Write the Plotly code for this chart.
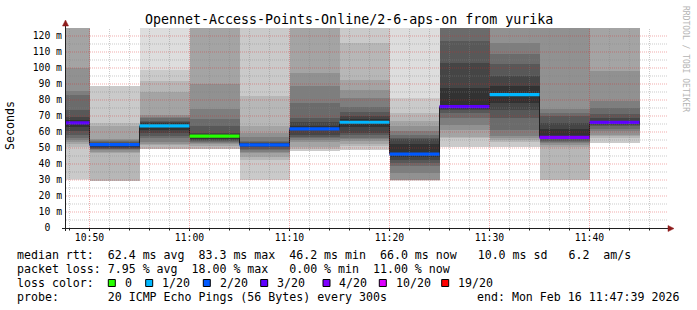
import plotly.graph_objects as go
from datetime import datetime, timedelta

# ---------------- data ----------------
DAY = "2026-02-16"
graph_start = "10:47:39"
graph_end = "11:47:39"
step_start = ["10:45", "10:50", "10:55", "11:00", "11:05", "11:10",
              "11:15", "11:20", "11:25", "11:30", "11:35", "11:40"]
STEP_S = 300

# 20 sorted ping RTTs (ms) per 5-min step; values above 125 ms are off-scale, None = lost
pings_1045 = [30.3, 30.4, 50.8, 52.3, 53.9, 55.0, 56.5, 58.1, 60.5, 63.3,
              67.5, 69.6, 73.8, 83.1, 85.8, 99.8, 130, 135, 140, 150]
pings_1050 = [None, 29.3, 29.4, 47.0, 47.7, 48.5, 49.2, 49.5, 49.8, 50.8,
              53.0, 53.4, 53.8, 54.2, 54.8, 55.4, 63.8, 65.8, 88.8, None]
pings_1055 = [49.3, 49.35, 49.4, 51.9, 52.2, 54.0, 56.0, 57.5, 59.2, 61.0,
              65.5, 66.2, 67.0, 68.5, 69.5, 70.6, 85.2, 91.9, 98.8, 140]
pings_1100 = [49.5, 49.55, 49.6, 51.0, 52.3, 52.9, 53.6, 54.4, 55.0, 55.6,
              58.5, 59.2, 63.8, 67.9, 74.2, 89.8, 130, 135, 140, 150]
pings_1105 = [29.9, 30.0, 42.5, 44.5, 46.7, 47.8, 48.8, 49.6, 50.4, 51.0,
              53.2, 53.4, 53.8, 54.4, 57.0, 59.6, 63.8, 82.5, 130, 140]
pings_1110 = [48.2, 48.3, 49.5, 50.8, 54.0, 55.0, 56.0, 57.0, 58.1, 61.3,
              64.0, 66.5, 68.9, 78.3, 88.8, 97.0, 130, 135, 140, 150]
pings_1115 = [48.7, 48.75, 51.3, 52.5, 54.4, 55.4, 56.4, 58.0, 59.6, 63.0,
              68.0, 70.0, 72.5, 75.5, 81.0, 86.5, 92.5, 115.8, 130, 140]
pings_1120 = [29.6, 29.7, 29.8, 29.9, 30.0, 34.4, 38.5, 40.5, 42.5, 44.5,
              52.5, 55.4, 56.0, 58.0, 60.6, 63.8, 66.9, 72.0, 81.4, 140]
pings_1125 = [50.7, 50.8, 56.0, 57.0, 61.5, 64.4, 69.0, 72.0, 73.5, 74.5,
              87.7, 103.3, 116.9, 130, 132, 134, 136, 138, 140, 150]
pings_1130 = [50.7, 50.8, 54.0, 55.0, 56.2, 57.5, 61.5, 69.0, 74.0, 78.0,
              88.8, 95.0, 102.3, 108.5, 115.8, 130, 135, 140, 145, 150]
pings_1135 = [29.8, 29.9, 30.0, 50.8, 51.8, 52.9, 53.5, 54.5, 55.5, 56.3,
              62.0, 65.8, 70.0, 72.0, 74.2, 130, 135, 140, 145, 150]
pings_1140 = [53.2, 53.3, 56.0, 57.2, 58.4, 60.5, 62.0, 63.5, 64.3, 65.0,
              67.0, 69.0, 71.1, 75.2, 79.4, 98.1, 130, 135, 140, 150]
pings = [pings_1045, pings_1050, pings_1055, pings_1100, pings_1105, pings_1110,
         pings_1115, pings_1120, pings_1125, pings_1130, pings_1135, pings_1140]

median_rtt = [65.7, 52.1, 63.8, 57.4, 52.0, 62.0, 66.1, 46.2, 75.8, 83.3, 56.7, 66.0]
loss_pct = [13, 7, 5, 0, 7, 6, 5, 7, 13, 5, 18, 11]

loss_levels = [0, 1, 2, 3, 4, 10, 19]          # lost pings out of 20
loss_labels = ["0", "1/20", "2/20", "3/20", "4/20", "10/20", "19/20"]
loss_colors = ["#26ff00", "#00b8ff", "#0059ff", "#5e00ff", "#7e00ff", "#dd00ff", "#ff0000"]

y_ticks = [0, 10, 20, 30, 40, 50, 60, 70, 80, 90, 100, 110, 120]
y_tick_text = ["0\u00a0\u00a0"] + [f"{v} m" for v in y_ticks[1:]]
x_ticks = ["10:50", "11:00", "11:10", "11:20", "11:30", "11:40"]

title_text = "Opennet-Access-Points-Online/2-6-aps-on from yurika"
line_rtt = "median rtt:  62.4 ms avg  83.3 ms max  46.2 ms min  66.0 ms now   10.0 ms sd   6.2  am/s"
line_loss = "packet loss: 7.95 % avg  18.00 % max   0.00 % min  11.00 % now"
line_probe = "probe:       20 ICMP Echo Pings (56 Bytes) every 300s"
line_end = "end: Mon Feb 16 11:47:39 2026"
watermark = "RRDTOOL / TOBI OETIKER"

# ---------------- geometry helpers ----------------
W, H = 697, 310
PL, PR, PT, PB = 66, 666, 28, 228          # plot area in pixels
YMAX = 125
MONO = "DejaVu Sans Mono"


def px(x):
    return (x - PL) / (PR - PL)


def py(y):
    return (PB - y) / (PB - PT)


def ts(hhmm):
    parts = [int(v) for v in hhmm.split(":")]
    while len(parts) < 3:
        parts.append(0)
    return datetime(2026, 2, 16, parts[0], parts[1], parts[2])


starts = [ts(s) for s in step_start]
ends = [s + timedelta(seconds=STEP_S) for s in starts]
centers = [s + timedelta(seconds=STEP_S / 2) for s in starts]
STEP_MS = STEP_S * 1000

fig = go.Figure()

# ---------------- smoke (smokeping style) ----------------
N = len(pings[0])
half = N // 2
for ibot in range(1, half + 1):
    itop = N - ibot + 1
    g = int(190 / half * (half - ibot)) + 50
    bases, heights = [], []
    for p in pings:
        lo, hi = p[ibot - 1], p[itop - 1]
        if lo is None or hi is None:
            bases.append(None)
            heights.append(None)
        else:
            bases.append(lo)
            heights.append(hi - lo)
    fig.add_trace(go.Bar(x=centers, y=heights, base=bases, width=STEP_MS,
                         marker=dict(color=f"rgb({g},{g},{g})", line=dict(width=0)),
                         hoverinfo="skip"))

# ---------------- median line ----------------
step_x = starts + [ends[-1]]
step_y = median_rtt + [median_rtt[-1]]
fig.add_trace(go.Scatter(x=step_x, y=step_y, mode="lines", line_shape="hv",
                         line=dict(color="#202020", width=1), hoverinfo="skip"))


def loss_color(pct):
    cnt = pct / 100 * 20
    last = -1
    for lv, col in zip(loss_levels, loss_colors):
        if last < cnt <= lv or (lv == 0 and cnt <= 0):
            return col
        last = lv
    return loss_colors[-1]


for s, e, m, l in zip(starts, ends, median_rtt, loss_pct):
    fig.add_trace(go.Scatter(x=[s, e], y=[m, m], mode="lines",
                             line=dict(color=loss_color(l), width=3.2), hoverinfo="skip"))

# ---------------- grid (drawn above data, like rrdtool) ----------------
MAJ = "rgba(215,40,40,0.38)"
MIN = "rgba(130,130,130,0.42)"
shapes = []
t0, t1 = ts(graph_start), ts(graph_end)
t = ts("10:48")
while t < t1:
    major = t.minute % 10 == 0
    shapes.append(dict(type="line", xref="x", yref="paper", x0=t, x1=t, y0=0, y1=1,
                       layer="above",
                       line=dict(color=MAJ if major else MIN, width=1, dash="1px,1px")))
    shapes.append(dict(type="line", xref="x", yref="paper", x0=t, x1=t,
                       y0=py(228.5), y1=py(231 if major else 230.5), layer="above",
                       line=dict(color="#202020", width=1)))
    t += timedelta(minutes=2)

for v in range(5, 125, 5):
    major = v % 10 == 0
    shapes.append(dict(type="line", xref="paper", yref="y", x0=0, x1=px(668), y0=v, y1=v,
                       layer="above",
                       line=dict(color=MAJ if major else MIN, width=1, dash="1px,1px")))

# axes
AX = "#202020"
ARROW = "#8e1c1c"
shapes.append(dict(type="line", xref="paper", yref="paper", x0=px(62), x1=px(668),
                   y0=py(228.5), y1=py(228.5), layer="above", line=dict(color=AX, width=1)))
shapes.append(dict(type="line", xref="paper", yref="paper", x0=px(65.5), x1=px(65.5),
                   y0=py(231), y1=py(24), layer="above", line=dict(color=AX, width=1)))
shapes.append(dict(type="path", xref="paper", yref="paper", layer="above",
                   path=f"M {px(668)} {py(225.5)} L {px(674)} {py(228.5)} L {px(668)} {py(231.5)} Z",
                   fillcolor=ARROW, line=dict(color=ARROW, width=0.5)))
shapes.append(dict(type="path", xref="paper", yref="paper", layer="above",
                   path=f"M {px(62.5)} {py(26)} L {px(65.5)} {py(20)} L {px(68.5)} {py(26)} Z",
                   fillcolor=ARROW, line=dict(color=ARROW, width=0.5)))

# loss colour boxes
box_left = [108.3, 145.7, 203.3, 260.7, 323.0, 379.3, 441.7]
for bl, col in zip(box_left, loss_colors):
    shapes.append(dict(type="rect", xref="paper", yref="paper",
                       x0=px(bl), x1=px(bl + 7), y0=py(279.5), y1=py(286.5),
                       fillcolor=col, line=dict(color="#000000", width=1)))

# ---------------- texts ----------------
ann = []


def text(x, y, s, size=11.6, anchor="left", angle=0, color="#000000"):
    ann.append(dict(xref="paper", yref="paper", x=px(x), y=py(y), text=s.replace(" ", "\u00a0"),
                    showarrow=False, xanchor=anchor, yanchor="middle", textangle=angle,
                    borderpad=0, font=dict(family=MONO, size=size, color=color)))


text(348.5, 19, title_text, size=13.3, anchor="center")
text(10, 126, "Seconds", anchor="center", angle=-90)
text(686, 59, watermark, size=8, anchor="center", angle=90, color="#b4b4b4")
text(16, 255, line_rtt)
text(16, 268.5, line_loss)
text(16, 282.5, "loss color:")
for bl, lab in zip(box_left, loss_labels):
    text(bl + 15.3, 282.5, lab)
text(16, 296.5, line_probe)
text(680, 296.5, line_end, anchor="right")

fig.update_layout(
    width=W, height=H,
    margin=dict(l=PL, r=W - PR, t=PT, b=H - PB),
    paper_bgcolor="#ffffff", plot_bgcolor="#ffffff",
    barmode="overlay", bargap=0, showlegend=False,
    shapes=shapes, annotations=ann,
    xaxis=dict(type="date", range=[t0, t1], showgrid=False, zeroline=False, showline=False,
               tickvals=[ts(v) for v in x_ticks], ticktext=x_ticks, ticks="",
               tickfont=dict(family=MONO, size=9.75, color="#000000"), ticklabelstandoff=2),
    yaxis=dict(range=[0, YMAX], showgrid=False, zeroline=False, showline=False,
               tickvals=y_ticks, ticktext=y_tick_text, ticks="",
               tickfont=dict(family=MONO, size=9.75, color="#000000"), ticklabelstandoff=3),
)

fig.write_html("out.html")
